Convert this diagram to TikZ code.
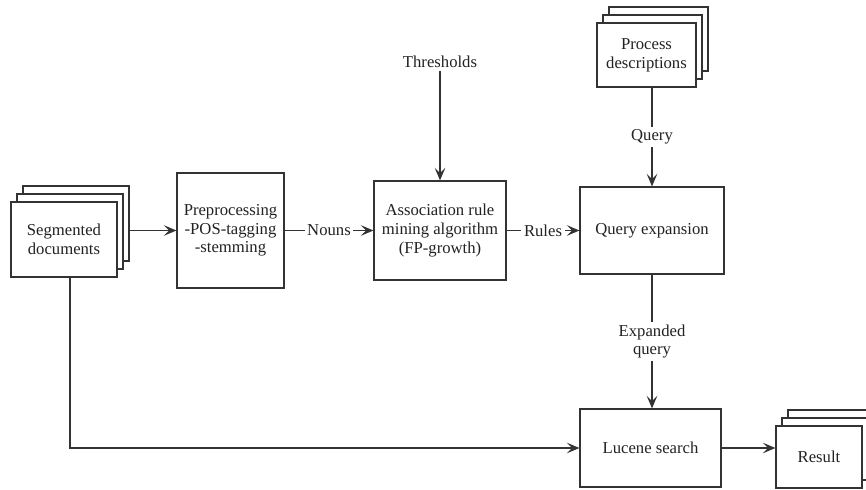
\documentclass[tikz,border=0pt]{standalone}
\usepackage{fontspec}
\setmainfont{Liberation Serif}
\usepackage{xcolor}
\usepackage{tikz}
\usetikzlibrary{arrows.meta, positioning}
\definecolor{qeLine}{HTML}{333333}
\definecolor{qeText}{HTML}{222222}

\begin{document}
\begin{tikzpicture}[
  x=0.75pt, y=-0.75pt,
  box/.style={draw=qeLine, line width=0.9pt, fill=white, align=center, inner sep=2pt,
              text=qeText, font=\fontsize{12.5}{14}\selectfont},
  lbl/.style={fill=white, inner sep=2pt, align=center, text=qeText,
              font=\fontsize{12.5}{14}\selectfont},
  arr/.style={-{Stealth[length=9.5pt, width=8pt, inset=4pt]}, line width=0.9pt, color=qeLine}
]
\useasboundingbox (0,0) rectangle (866,489);

% stacked documents (back to front)
\node[box, minimum width=79.5pt, minimum height=56.25pt] (segback) at (76,223.5) {};
\node[box, minimum width=79.5pt, minimum height=56.25pt] (segmid) at (70,231.5) {};
\node[box, minimum width=79.5pt, minimum height=56.25pt] (seg) at (64,239.5) {Segmented\\documents};

\node[box, minimum width=74.25pt, minimum height=48pt] (procback) at (658.5,39) {};
\node[box, minimum width=74.25pt, minimum height=48pt] (procmid) at (652.5,47) {};
\node[box, minimum width=74.25pt, minimum height=48pt] (proc) at (646.5,55) {Process\\descriptions};

\node[box, minimum width=64.5pt, minimum height=46.5pt] (resback) at (831,441) {};
\node[box, minimum width=64.5pt, minimum height=46.5pt] (resmid) at (825,449) {};
\node[box, minimum width=64.5pt, minimum height=46.5pt] (res) at (819,457) {Result};

% processing steps
\node[box, minimum width=80.25pt, minimum height=86.25pt] (prep) at (230.5,230.5)
  {Preprocessing\\-POS-tagging\\-stemming};
\node[box, minimum width=99pt, minimum height=74.25pt] (assoc) at (440,230.5)
  {Association rule\\mining algorithm\\(FP-growth)};
\node[box, minimum width=108pt, minimum height=65.25pt] (qe) at (652,230.5) {Query expansion};
\node[box, minimum width=105.75pt, minimum height=58.5pt] (luc) at (650.5,448) {Lucene search};
\node[lbl] (thr) at (440,62) {Thresholds};

\draw[arr] (segback.east |- prep.west) -- (prep.west);
\draw[arr] (prep) -- node[lbl] {Nouns} (assoc);
\draw[arr] (assoc) -- node[lbl] {Rules} (qe);
\draw[arr] (thr) -- (assoc);
\draw[arr] (proc.south -| qe.north) -- node[lbl] {Query} (qe.north);
\draw[arr] (qe.south) -- node[lbl] {Expanded\\query} (qe.south |- luc.north);
\draw[arr] ([xshift=4.5pt]seg.south) |- (luc.west);
\draw[arr] (luc.east) -- (luc.east -| res.west);

\end{tikzpicture}
\end{document}
